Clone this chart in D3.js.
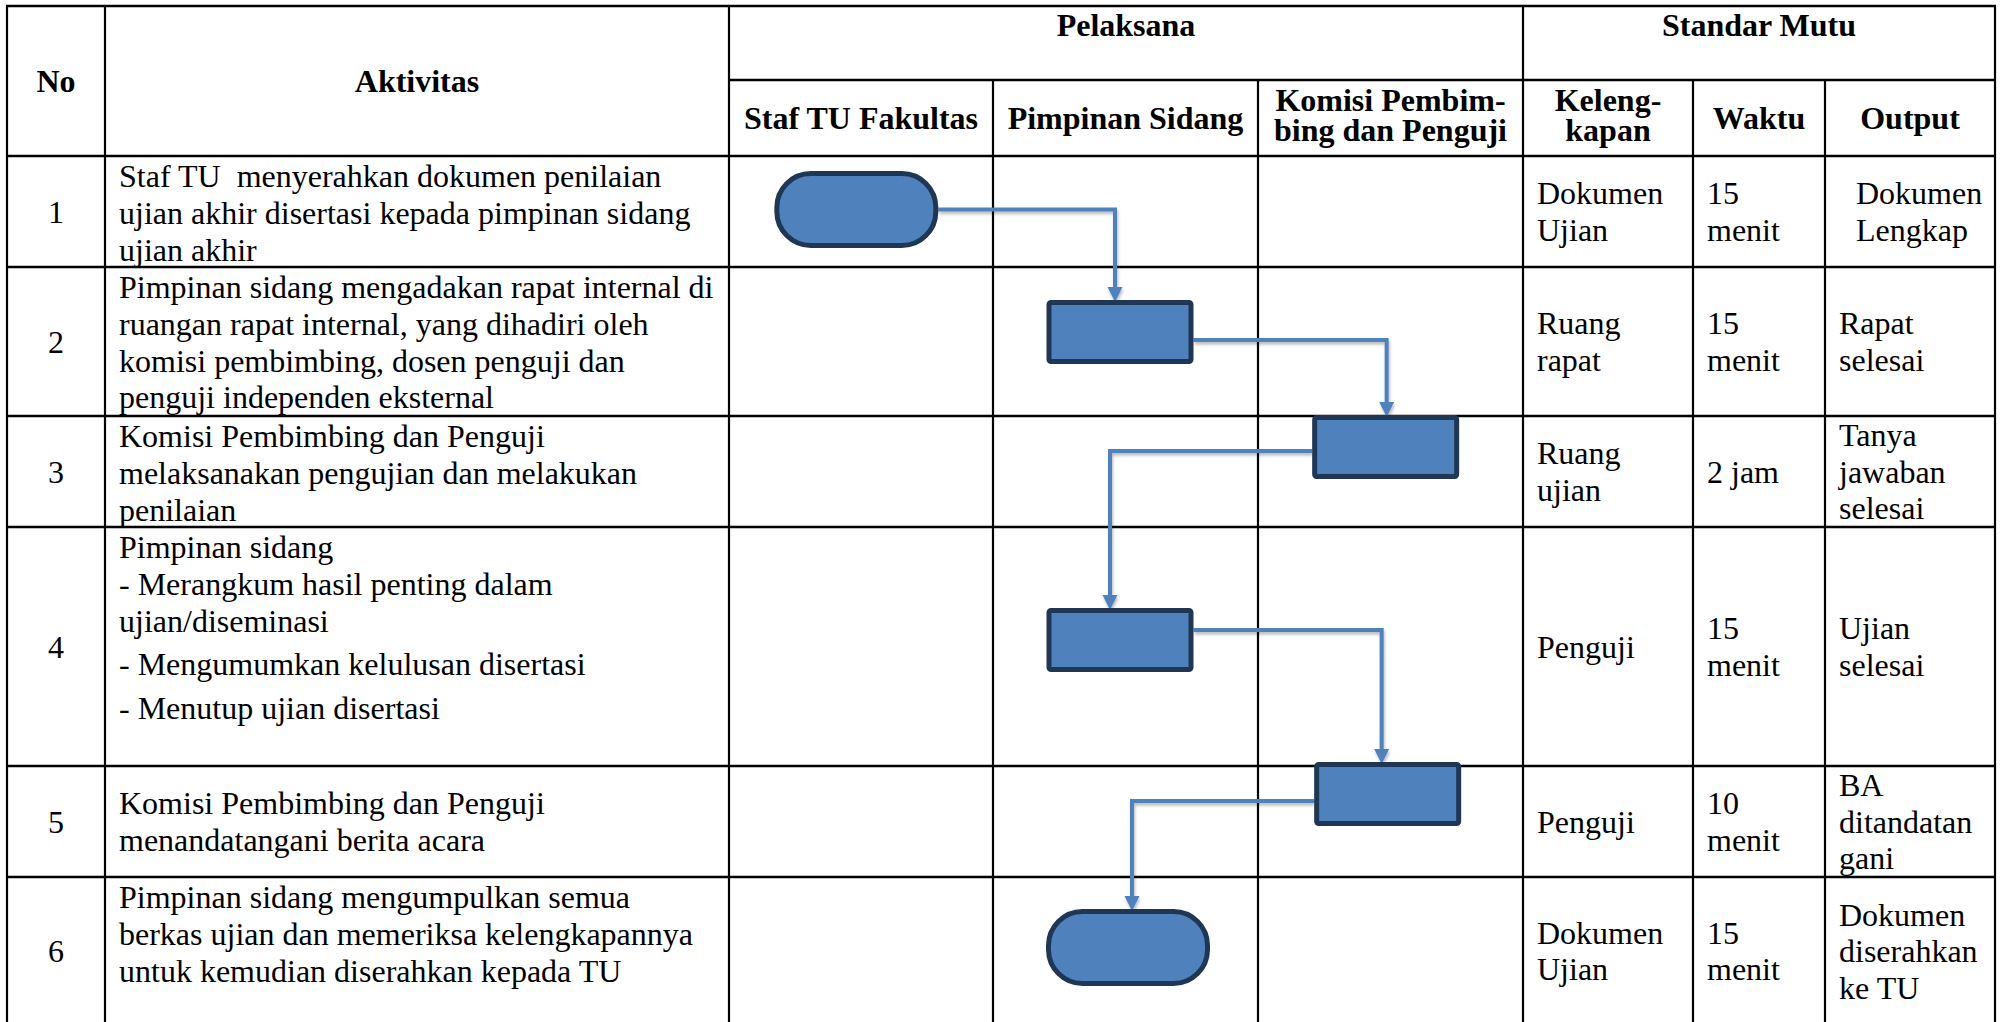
<!DOCTYPE html>
<html><head><meta charset="utf-8">
<script src="https://cdn.jsdelivr.net/npm/d3@7"></script>
<style>html,body{margin:0;padding:0;background:#fff;overflow:hidden} text{white-space:pre}</style>
</head><body><svg id="c" width="2002" height="1022"></svg>
<script>
// ================= DATA =================
const rowNumbers = ["1", "2", "3", "4", "5", "6"];
const activities = [
  [["Staf TU  menyerahkan dokumen penilaian", "ujian akhir disertasi kepada pimpinan sidang", "ujian akhir"]],
  [["Pimpinan sidang mengadakan rapat internal di", "ruangan rapat internal, yang dihadiri oleh", "komisi pembimbing, dosen penguji dan", "penguji independen eksternal"]],
  [["Komisi Pembimbing dan Penguji", "melaksanakan pengujian dan melakukan", "penilaian"]],
  [["Pimpinan sidang", "- Merangkum hasil penting dalam", "ujian/diseminasi"], ["- Mengumumkan kelulusan disertasi"], ["- Menutup ujian disertasi"]],
  [["Komisi Pembimbing dan Penguji", "menandatangani berita acara"]],
  [["Pimpinan sidang mengumpulkan semua", "berkas ujian dan memeriksa kelengkapannya", "untuk kemudian diserahkan kepada TU"]]
];
const lanes = ["Staf TU Fakultas", "Pimpinan Sidang", "Komisi Pembimbing dan Penguji"];
const laneHeaders = [["Staf TU Fakultas"], ["Pimpinan Sidang"], ["Komisi Pembim-", "bing dan Penguji"]];
const stepLane = ["Staf TU Fakultas", "Pimpinan Sidang", "Komisi Pembimbing dan Penguji", "Pimpinan Sidang", "Komisi Pembimbing dan Penguji", "Pimpinan Sidang"];
const stepShape = ["terminator", "process", "process", "process", "process", "terminator"];
const kelengkapan = [["Dokumen", "Ujian"], ["Ruang", "rapat"], ["Ruang", "ujian"], ["Penguji"], ["Penguji"], ["Dokumen", "Ujian"]];
const waktu = [["15", "menit"], ["15", "menit"], ["2 jam"], ["15", "menit"], ["10", "menit"], ["15", "menit"]];
const output = [["Dokumen", "Lengkap"], ["Rapat", "selesai"], ["Tanya", "jawaban", "selesai"], ["Ujian", "selesai"], ["BA", "ditandatan", "gani"], ["Dokumen", "diserahkan", "ke TU"]];
const mutuHeaders = [["Keleng-", "kapan"], ["Waktu"], ["Output"]];
const groupHeaders = ["Pelaksana", "Standar Mutu"];
const mainHeaders = ["No", "Aktivitas"];

// ================= LAYOUT / STYLE =================
const W = 2002, H = 1022;
const colEdges = [7, 105, 729, 993, 1258, 1523, 1693, 1825, 1995];
const headerTop = 6, headerMid = 80, headerBottom = 156;
const rowHeights = [111, 149, 111, 239, 111, 148];
const activityAlign = ["top", "top", "top", "top", "middle", "top"];
const outputIndent = [17, 0, 0, 0, 0, 0];
const shapeOffsetY = [15, 33, -1, 81, -4, 32];
const shapeOffsetX = [-5, -6, -5, -6, -3, 2];
const connectorDy = [0, 8, 4, -10, 7];
const connectorDx = [-5, 1, -10, -6, 4];
const FONT = "'Liberation Serif','Times New Roman',serif";
const FS = 32, LINE = 36.8, HLINE = 30;
const fillC = "#4F81BD", strokeC = "#1F3755", connC = "#4F81BD";

const svg = d3.select("#c");
const defs = svg.append("defs");
const f = defs.append("filter").attr("id", "sh").attr("x", "-20%").attr("y", "-20%").attr("width", "140%").attr("height", "140%");
f.append("feDropShadow").attr("dx", 1).attr("dy", 2.5).attr("stdDeviation", 1.6).attr("flood-color", "#000").attr("flood-opacity", 0.28);

// row scale
const rowTops = [];
let acc = headerBottom;
rowHeights.forEach(h => { rowTops.push(acc); acc += h; });
const tableBottom = acc;
const rowTop = d3.scaleOrdinal().domain(rowNumbers).range(rowTops);
const rowH = d3.scaleOrdinal().domain(rowNumbers).range(rowHeights);
const laneX = d3.scaleBand().domain(lanes).range([colEdges[2], colEdges[5]]);

// ================= GRID =================
const grid = svg.append("g").attr("stroke", "#000");
const hLines = [
  [colEdges[0], colEdges[8], headerTop],
  [colEdges[2], colEdges[8], headerMid],
  [colEdges[0], colEdges[8], headerBottom]
];
rowTops.forEach((t, i) => hLines.push([colEdges[0], colEdges[8], t + rowHeights[i]]));
grid.selectAll("line.h").data(hLines).join("line").attr("class", "h")
  .attr("x1", d => d[0] - 1).attr("x2", d => d[1] + 1).attr("y1", d => d[2]).attr("y2", d => d[2])
  .attr("stroke-width", 2.6);
const vLines = colEdges.map((x, i) => [x, ([3, 4, 6, 7].includes(i) ? headerMid : headerTop)]);
grid.selectAll("line.v").data(vLines).join("line").attr("class", "v")
  .attr("x1", d => d[0]).attr("x2", d => d[0]).attr("y1", d => d[1]).attr("y2", tableBottom)
  .attr("stroke-width", 2.2);

// ================= TEXT =================
const txt = svg.append("g").attr("font-family", FONT).attr("font-size", FS).attr("fill", "#000");

// main headers
txt.selectAll("text.mh").data(mainHeaders).join("text").attr("class", "mh")
  .attr("x", (d, i) => (colEdges[i] + colEdges[i + 1]) / 2).attr("y", 92)
  .attr("text-anchor", "middle").attr("font-weight", "bold").text(d => d);
// group headers
const groupSpans = [[colEdges[2], colEdges[5]], [colEdges[5], colEdges[8]]];
txt.selectAll("text.gh").data(groupHeaders).join("text").attr("class", "gh")
  .attr("x", (d, i) => (groupSpans[i][0] + groupSpans[i][1]) / 2).attr("y", 36)
  .attr("text-anchor", "middle").attr("font-weight", "bold").text(d => d);
// sub headers
const subHeaders = laneHeaders.concat(mutuHeaders);
const subCenterY = (headerMid + headerBottom) / 2;
subHeaders.forEach((lines, i) => {
  const cx = (colEdges[i + 2] + colEdges[i + 3]) / 2;
  const n = lines.length;
  lines.forEach((s, j) => {
    txt.append("text").attr("x", cx)
      .attr("y", subCenterY + 11 + (j - (n - 1) / 2) * HLINE - (n > 1 ? 3 : 0))
      .attr("text-anchor", "middle").attr("font-weight", "bold").text(s);
  });
});

// numbers
rowNumbers.forEach(r => {
  txt.append("text").attr("x", (colEdges[0] + colEdges[1]) / 2)
    .attr("y", rowTop(r) + rowH(r) / 2 + 11).attr("text-anchor", "middle").text(r);
});

// activities
activities.forEach((paras, i) => {
  const r = rowNumbers[i];
  const flat = [];
  let y = 0;
  paras.forEach((lines, p) => {
    if (p > 0) y += 7;
    lines.forEach(s => { flat.push({ s, y }); y += LINE; });
  });
  const total = y - LINE;
  let base;
  if (activityAlign[i] === "middle") base = rowTop(r) + rowH(r) / 2 - total / 2 + 11;
  else base = rowTop(r) + 31;
  txt.selectAll(null).data(flat).join("text")
    .attr("x", colEdges[1] + 14).attr("y", d => base + d.y)
    .attr("xml:space", "preserve").text(d => d.s);
});

// quality columns
function centeredCol(data, colIdx, xPad, indent) {
  data.forEach((lines, i) => {
    const r = rowNumbers[i];
    const n = lines.length;
    const cy = rowTop(r) + rowH(r) / 2;
    lines.forEach((s, j) => {
      txt.append("text").attr("x", colEdges[colIdx] + xPad + (indent ? indent[i] : 0))
        .attr("y", cy + 11 + (j - (n - 1) / 2) * 36.5).text(s);
    });
  });
}
centeredCol(kelengkapan, 5, 14, null);
centeredCol(waktu, 6, 14, null);
centeredCol(output, 7, 14, outputIndent);

// ================= FLOW SHAPES =================
const shapeSize = { terminator: { w: 164, h: 77, rx: 34 }, process: { w: 147, h: 64, rx: 2 } };
const SW = 5;
const shapes = rowNumbers.map((r, i) => {
  const sz = shapeSize[stepShape[i]];
  const cx = laneX(stepLane[i]) + laneX.bandwidth() / 2 + shapeOffsetX[i];
  const top = rowTop(r) + shapeOffsetY[i];
  return { cx, top, w: sz.w, h: sz.h, rx: sz.rx, left: cx - sz.w / 2, right: cx + sz.w / 2, cy: top + sz.h / 2, lane: lanes.indexOf(stepLane[i]) };
});

// connectors
const conn = svg.append("g").attr("filter", "url(#sh)");
for (let i = 0; i < shapes.length - 1; i++) {
  const a = shapes[i], b = shapes[i + 1];
  const goRight = b.lane > a.lane;
  const sx = goRight ? a.right : a.left;
  const sy = a.cy + connectorDy[i];
  const vx = b.cx + connectorDx[i];
  const tip = b.top + 2;
  const base = tip - 15;
  conn.append("path")
    .attr("d", d3.line()([[sx, sy], [vx, sy], [vx, base + 1]]))
    .attr("fill", "none").attr("stroke", connC).attr("stroke-width", 4).attr("stroke-linejoin", "miter");
  conn.append("path")
    .attr("d", d3.line()([[vx - 7.5, base], [vx + 7.5, base], [vx, tip]]) + "Z")
    .attr("fill", connC);
}

// shapes
svg.append("g").selectAll("rect").data(shapes).join("rect")
  .attr("x", d => d.left + SW / 2).attr("y", d => d.top + SW / 2)
  .attr("width", d => d.w - SW).attr("height", d => d.h - SW)
  .attr("rx", d => d.rx).attr("ry", d => d.rx)
  .attr("fill", fillC).attr("stroke", strokeC).attr("stroke-width", SW);
</script>
</body></html>
